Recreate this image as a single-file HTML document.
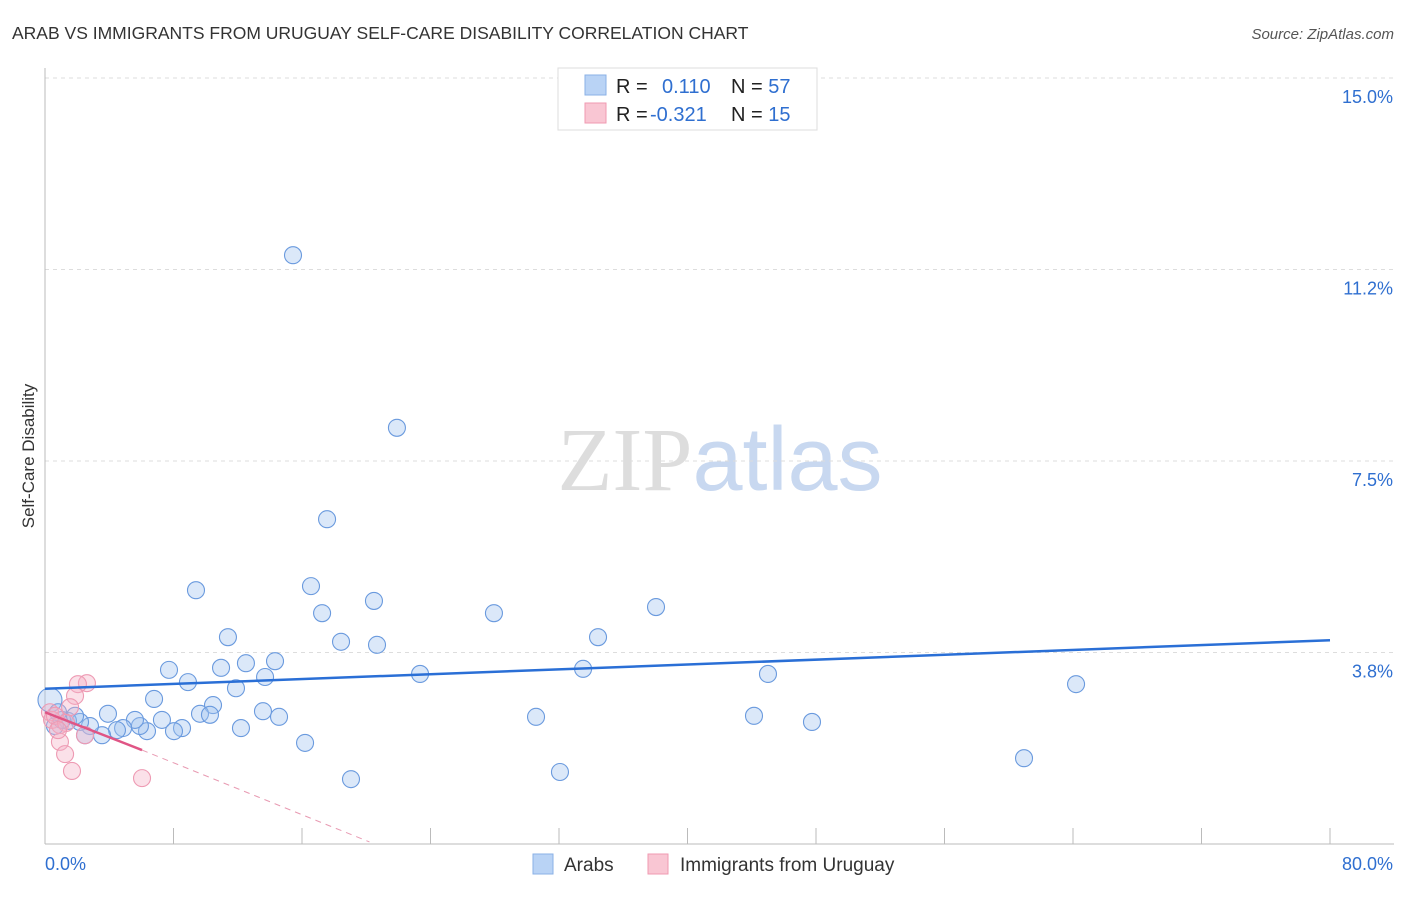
<!DOCTYPE html>
<html><head><meta charset="utf-8"><style>
body{margin:0;background:#fff;font-family:"Liberation Sans",sans-serif}
svg text{font-family:"Liberation Sans",sans-serif}
</style></head><body>
<svg id="chart" width="1406" height="892" xmlns="http://www.w3.org/2000/svg">
<text x="12" y="39" font-size="17.5" fill="#333">ARAB VS IMMIGRANTS FROM URUGUAY SELF-CARE DISABILITY CORRELATION CHART</text>
<text x="1394" y="39" font-size="15" fill="#555" text-anchor="end" font-style="italic">Source: ZipAtlas.com</text>
<text x="720" y="490" font-size="90" text-anchor="middle"><tspan fill="#ddd" font-family="Liberation Serif">ZIP</tspan><tspan fill="#c8d8f0">atlas</tspan></text>
<text transform="translate(34,456) rotate(-90)" font-size="17" fill="#333" text-anchor="middle">Self-Care Disability</text>
<g id="grid"></g><g id="axes"></g><g id="marks"></g>
<g>
<rect x="558" y="68" width="259" height="62" fill="#fff" stroke="#ddd"/>
<rect x="585" y="75" width="21" height="20" fill="#b9d3f5" stroke="#8ab0e6"/>
<rect x="585" y="103" width="21" height="20" fill="#f9c6d3" stroke="#f09ab2"/>
<text x="616" y="93" font-size="20" fill="#222">R = <tspan fill="#2f6fd0" x="662">0.110</tspan><tspan fill="#222" x="731">N = </tspan><tspan fill="#2f6fd0">57</tspan></text>
<text x="616" y="121" font-size="20" fill="#222">R = <tspan fill="#2f6fd0" x="650">-0.321</tspan><tspan fill="#222" x="731">N = </tspan><tspan fill="#2f6fd0"> 15</tspan></text>
</g>
<g>
<rect x="533" y="854" width="20" height="20" fill="#b9d3f5" stroke="#8ab0e6"/>
<text x="564" y="871" font-size="19" fill="#333">Arabs</text>
<rect x="648" y="854" width="20" height="20" fill="#f9c6d3" stroke="#f09ab2"/>
<text x="680" y="871" font-size="19" fill="#333">Immigrants from Uruguay</text>
</g>
</svg>
<script>
const yTicks=[3.8,7.5,11.2,15.0];
const yTickVals=[3.75,7.5,11.25,15];
const xTickVals=[0,8,16,24,32,40,48,56,64,72,80];
const arabX=[15.44,21.91,17.56,16.56,9.40,20.48,17.25,27.95,38.04,11.39,18.43,20.67,34.43,7.72,10.96,12.51,14.32,8.90,13.70,23.35,33.50,45.01,64.19,11.89,6.79,10.46,13.57,14.57,9.65,10.27,30.57,44.14,47.75,7.28,12.20,16.19,19.05,32.06,60.95,8.53,8.03,6.35,5.91,5.60,4.86,4.48,3.92,3.55,2.80,2.18,1.43,0.62,0.31,1.06,1.87,0.81,2.49];
const arabY=[11.53,8.15,6.36,5.05,4.97,4.76,4.52,4.52,4.64,4.05,3.96,3.90,4.05,3.41,3.45,3.54,3.58,3.17,3.27,3.33,3.43,3.33,3.13,3.05,2.84,2.72,2.60,2.49,2.55,2.53,2.49,2.51,2.39,2.43,2.27,1.98,1.27,1.41,1.68,2.27,2.21,2.21,2.31,2.43,2.27,2.23,2.55,2.13,2.31,2.39,2.41,2.31,2.82,2.43,2.51,2.58,2.13];
const uruX=[2.61,2.05,1.87,1.56,0.31,0.44,0.93,2.49,0.93,1.25,1.68,6.04,0.62,1.31,0.81];
const uruY=[3.15,3.13,2.90,2.68,2.58,2.43,2.33,2.13,2.00,1.76,1.43,1.29,2.51,2.37,2.23];
const arabTrend=[3.04,3.99];
const uruTrend=[2.58,1.84,0.04];
const uruTrendX=[0,6.04,20.2];
const NS='http://www.w3.org/2000/svg';
const X=v=>45+v/80*1285, Y=v=>844-v/15*766;
function mk(p,t,a){const e=document.createElementNS(NS,t);for(const k in a)e.setAttribute(k,a[k]);document.getElementById(p).appendChild(e);return e;}
yTickVals.forEach((v,i)=>{
 let l=mk('grid','line',{x1:45,x2:1394,y1:Y(v),y2:Y(v),stroke:'#ddd','stroke-dasharray':'4,4'});
 
 
 let t=mk('axes','text',{x:1393,y:Y(v)+25,'font-size':18,fill:'#2f6fd0','text-anchor':'end'});
 t.textContent=yTicks[i].toFixed(1)+'%';
 
 
});
let ya=mk('axes','line',{x1:45,x2:45,y1:68,y2:844,stroke:'#bbb'});


let xa=mk('axes','line',{x1:45,x2:1394,y1:844,y2:844,stroke:'#bbb'});


xTickVals.forEach(v=>{
 let t=mk('axes','line',{x1:X(v),x2:X(v),y1:828,y2:844,stroke:'#bbb'});
 
 
});
[[0,'start',45],[80,'end',1393]].forEach(([v,a,x])=>{
 let t=mk('axes','text',{x:x,y:870,'font-size':18,fill:'#2f6fd0','text-anchor':a});
 t.textContent=v.toFixed(1)+'%';
 
 
});
arabX.forEach((v,i)=>{
 let c=mk('marks','circle',{cx:X(v),cy:Y(arabY[i]),r:i==52?12:8.5,fill:'rgba(160,195,240,0.38)',stroke:'#6a9ade','stroke-width':1.1});
 
 
});
uruX.forEach((v,i)=>{
 let c=mk('marks','circle',{cx:X(v),cy:Y(uruY[i]),r:8.5,fill:'rgba(245,175,198,0.38)',stroke:'#ee9ab3','stroke-width':1.1});
 
 
});
let bt=mk('marks','line',{x1:X(0),y1:Y(arabTrend[0]),x2:X(80),y2:Y(arabTrend[1]),stroke:'#2a6fd6','stroke-width':2.5});


let pt=mk('marks','line',{x1:X(uruTrendX[0]),y1:Y(uruTrend[0]),x2:X(uruTrendX[1]),y2:Y(uruTrend[1]),stroke:'#e05585','stroke-width':2.5});


let pd=mk('marks','line',{x1:X(uruTrendX[1]),y1:Y(uruTrend[1]),x2:X(uruTrendX[2]),y2:Y(uruTrend[2]),stroke:'#e89ab2','stroke-width':1,'stroke-dasharray':'6,5'});


</script>
</body></html>
